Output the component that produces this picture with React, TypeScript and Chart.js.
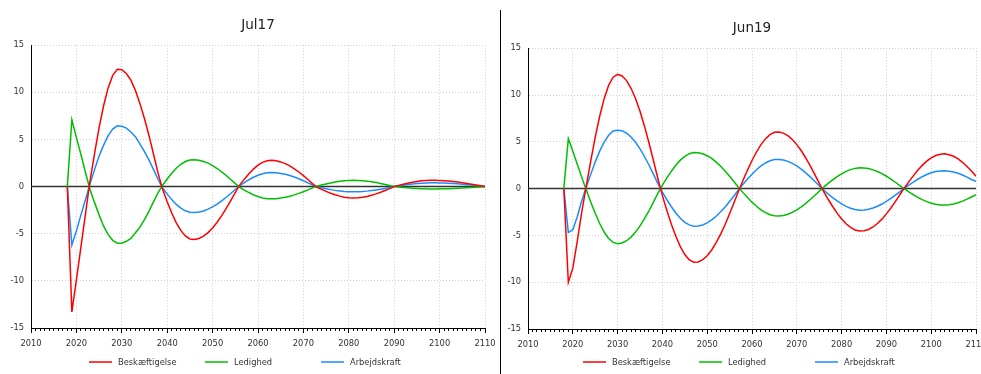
import React, { useEffect, useRef } from "react";
import { Chart, registerables } from "chart.js";

Chart.register(...registerables);

const years = [
  2018, 2019, 2020, 2021, 2022, 2023, 2024, 2025, 2026, 2027, 2028, 2029, 2030, 2031, 2032, 2033, 2034, 2035, 2036, 2037,
  2038, 2039, 2040, 2041, 2042, 2043, 2044, 2045, 2046, 2047, 2048, 2049, 2050, 2051, 2052, 2053, 2054, 2055, 2056, 2057,
  2058, 2059, 2060, 2061, 2062, 2063, 2064, 2065, 2066, 2067, 2068, 2069, 2070, 2071, 2072, 2073, 2074, 2075, 2076, 2077,
  2078, 2079, 2080, 2081, 2082, 2083, 2084, 2085, 2086, 2087, 2088, 2089, 2090, 2091, 2092, 2093, 2094, 2095, 2096, 2097,
  2098, 2099, 2100, 2101, 2102, 2103, 2104, 2105, 2106, 2107, 2108, 2109, 2110,
];

const jul17Beskaeftigelse = [
  0, -13.3, -9.9, -6.4, -2.9, 0.6, 3.5, 6.25, 8.6, 10.5, 11.8, 12.45, 12.4, 12.0, 11.3, 10.2, 8.8, 7.2, 5.4, 3.4,
  1.4, -0.3, -1.6, -2.8, -3.84, -4.65, -5.23, -5.55, -5.61, -5.5, -5.26, -4.88, -4.39, -3.78, -3.08, -2.31, -1.48, -0.62, 0.18, 0.79,
  1.36, 1.86, 2.27, 2.57, 2.75, 2.79, 2.74, 2.62, 2.44, 2.19, 1.89, 1.55, 1.16, 0.75, 0.31, -0.07, -0.29, -0.51, -0.7, -0.87,
  -1.01, -1.12, -1.18, -1.2, -1.18, -1.13, -1.04, -0.92, -0.77, -0.6, -0.41, -0.21, 0, 0.13, 0.25, 0.36, 0.46, 0.54, 0.61, 0.65,
  0.67, 0.67, 0.65, 0.63, 0.59, 0.54, 0.48, 0.42, 0.34, 0.26, 0.18, 0.09, 0,
];
const jul17Ledighed = [
  0, 7.1, 5.2, 3.4, 1.5, -0.3, -1.7, -3.0, -4.2, -5.1, -5.7, -6.0, -6.0, -5.8, -5.5, -4.9, -4.3, -3.5, -2.6, -1.6,
  -0.65, 0.15, 0.8, 1.42, 1.95, 2.37, 2.66, 2.83, 2.86, 2.8, 2.67, 2.49, 2.23, 1.92, 1.57, 1.18, 0.75, 0.31, -0.08, -0.37,
  -0.63, -0.87, -1.06, -1.2, -1.28, -1.3, -1.28, -1.22, -1.14, -1.02, -0.88, -0.72, -0.54, -0.35, -0.14, 0.04, 0.16, 0.28, 0.39, 0.49,
  0.57, 0.62, 0.66, 0.67, 0.66, 0.63, 0.58, 0.51, 0.43, 0.34, 0.23, 0.12, 0, -0.05, -0.09, -0.13, -0.17, -0.2, -0.23, -0.24,
  -0.25, -0.25, -0.24, -0.23, -0.22, -0.2, -0.18, -0.16, -0.13, -0.1, -0.07, -0.03, 0,
];
const jul17Arbejdskraft = [
  0, -6.2, -4.7, -3.0, -1.4, 0.3, 1.8, 3.25, 4.4, 5.4, 6.1, 6.45, 6.4, 6.2, 5.8, 5.3, 4.5, 3.7, 2.8, 1.8,
  0.75, -0.15, -0.8, -1.38, -1.89, -2.28, -2.57, -2.72, -2.75, -2.7, -2.59, -2.39, -2.16, -1.86, -1.51, -1.13, -0.73, -0.31, 0.1, 0.42,
  0.73, 0.99, 1.21, 1.37, 1.47, 1.49, 1.46, 1.4, 1.3, 1.17, 1.01, 0.83, 0.62, 0.4, 0.17, -0.03, -0.13, -0.23, -0.32, -0.4,
  -0.46, -0.51, -0.54, -0.55, -0.54, -0.52, -0.48, -0.42, -0.35, -0.28, -0.19, -0.1, 0, 0.08, 0.15, 0.22, 0.28, 0.32, 0.36, 0.39,
  0.4, 0.4, 0.39, 0.37, 0.35, 0.32, 0.29, 0.25, 0.2, 0.16, 0.11, 0.05, 0,
];

const jun19Beskaeftigelse = [
  0, -10.0, -8.5, -5.6, -2.5, 0.27, 2.94, 5.47, 7.73, 9.61, 11.03, 11.9, 12.2, 12.03, 11.54, 10.72, 9.63, 8.26, 6.67, 4.9,
  3.0, 1.05, -0.75, -2.34, -3.8, -5.1, -6.2, -7.05, -7.61, -7.86, -7.83, -7.6, -7.17, -6.56, -5.78, -4.87, -3.84, -2.69, -1.49, -0.25,
  0.89, 1.98, 3.0, 3.91, 4.7, 5.31, 5.76, 6.01, 6.05, 5.93, 5.66, 5.25, 4.7, 4.04, 3.27, 2.43, 1.52, 0.58, -0.33, -1.14,
  -1.91, -2.62, -3.24, -3.76, -4.15, -4.42, -4.53, -4.51, -4.37, -4.1, -3.73, -3.26, -2.7, -2.07, -1.39, -0.66, 0.07, 0.72, 1.36, 1.95,
  2.48, 2.93, 3.29, 3.54, 3.68, 3.71, 3.62, 3.45, 3.17, 2.81, 2.37, 1.88, 1.33,
];
const jun19Ledighed = [
  0, 5.36, 4.0, 2.6, 1.2, -0.13, -1.42, -2.64, -3.73, -4.64, -5.33, -5.75, -5.89, -5.81, -5.57, -5.18, -4.65, -3.99, -3.22, -2.37,
  -1.44, -0.5, 0.37, 1.15, 1.86, 2.5, 3.04, 3.45, 3.73, 3.85, 3.84, 3.72, 3.51, 3.22, 2.83, 2.39, 1.88, 1.32, 0.73, 0.12,
  -0.43, -0.96, -1.45, -1.89, -2.27, -2.57, -2.79, -2.91, -2.93, -2.87, -2.74, -2.54, -2.27, -1.95, -1.58, -1.17, -0.74, -0.28, 0.16, 0.56,
  0.93, 1.28, 1.58, 1.84, 2.03, 2.16, 2.22, 2.2, 2.14, 2.0, 1.82, 1.6, 1.32, 1.01, 0.68, 0.32, -0.03, -0.34, -0.64, -0.93,
  -1.18, -1.39, -1.56, -1.68, -1.75, -1.76, -1.72, -1.64, -1.51, -1.34, -1.13, -0.9, -0.66,
];
const jun19Arbejdskraft = [
  0, -4.68, -4.4, -3.0, -1.3, 0.14, 1.52, 2.83, 4.0, 4.97, 5.7, 6.15, 6.24, 6.17, 5.93, 5.52, 4.95, 4.25, 3.43, 2.52,
  1.54, 0.54, -0.38, -1.19, -1.94, -2.6, -3.16, -3.6, -3.88, -4.01, -3.99, -3.88, -3.66, -3.34, -2.95, -2.48, -1.96, -1.37, -0.76, -0.13,
  0.46, 1.02, 1.54, 2.02, 2.42, 2.74, 2.97, 3.1, 3.12, 3.05, 2.91, 2.7, 2.42, 2.08, 1.68, 1.25, 0.78, 0.3, -0.17, -0.58,
  -0.97, -1.32, -1.64, -1.9, -2.1, -2.24, -2.3, -2.28, -2.21, -2.08, -1.89, -1.65, -1.37, -1.05, -0.7, -0.34, 0.04, 0.37, 0.7, 1.0,
  1.27, 1.5, 1.69, 1.82, 1.89, 1.9, 1.86, 1.78, 1.64, 1.45, 1.22, 0.97, 0.77,
];

const seriesLabels = ["Beskæftigelse", "Ledighed", "Arbejdskraft"];
const seriesColors = ["#ff0000", "#00bf00", "#1a8cff"];
const xMin = 2010;
const xMax = 2110;
const xMajorStep = 10;
const xMinorStep = 1;
const yMin = -15;
const yMax = 15;
const yStep = 5;

const FONT = '"DejaVu Sans", Verdana, sans-serif';
const GRID = "#cfcfcf";

const fixedLegend = {
  id: "fixedLegend",
  afterDraw(chart: any, _args: any, opts: any) {
    const { ctx, chartArea } = chart;
    const cx = (chartArea.left + chartArea.right) / 2;
    const start = cx - opts.offset;
    const y = opts.y;
    ctx.save();
    ctx.font = `8.3px ${FONT}`;
    ctx.textBaseline = "middle";
    ctx.textAlign = "left";
    const items = chart.data.datasets.filter((d: any) => d.label);
    items.forEach((ds: any, i: number) => {
      const x = start + i * opts.colWidth;
      ctx.strokeStyle = ds.borderColor;
      ctx.lineWidth = 1.5;
      ctx.beginPath();
      ctx.moveTo(x, y);
      ctx.lineTo(x + 23, y);
      ctx.stroke();
      ctx.fillStyle = "#333";
      ctx.fillText(ds.label, x + 29, y + 0.5);
    });
    ctx.restore();
  },
};

type PanelProps = {
  title: string;
  series: number[][];
  left: number;
  width: number;
  yWidth: number;
  titleTop: number;
  xHeight: number;
};

function Panel({ title, series, left, width, yWidth, titleTop, xHeight }: PanelProps) {
  const ref = useRef<HTMLCanvasElement>(null);
  useEffect(() => {
    const toPts = (vals: number[]) => years.map((x, i) => ({ x, y: vals[i] }));
    const datasets: any[] = series.map((vals, i) => ({
      label: seriesLabels[i],
      data: toPts(vals),
      borderColor: seriesColors[i],
      backgroundColor: seriesColors[i],
      borderWidth: 1.5,
      pointRadius: 0,
      tension: 0,
      fill: false,
      order: 1,
    }));
    datasets.push({
      label: "",
      data: [
        { x: xMin, y: 0 },
        { x: xMax, y: 0 },
      ],
      borderColor: "#333",
      borderWidth: 1.5,
      pointRadius: 0,
      fill: false,
      order: 10,
    });
    const chart = new Chart(ref.current as HTMLCanvasElement, {
      type: "line",
      data: { datasets },
      plugins: [fixedLegend as any],
      options: {
        responsive: false,
        animation: false,
        devicePixelRatio: 1,
        layout: { padding: 0 },
        plugins: {
          legend: { display: false },
          tooltip: { enabled: false },
          title: {
            display: true,
            text: title,
            color: "#222",
            font: { family: FONT, size: 13.5, weight: "normal" as any },
            padding: { top: titleTop, bottom: 12 },
          },
          fixedLegend: { y: 362, offset: 169, colWidth: 116 },
        } as any,
        scales: {
          x: {
            type: "linear",
            position: "bottom",
            min: xMin,
            max: xMax,
            ticks: {
              stepSize: xMajorStep,
              autoSkip: false,
              maxRotation: 0,
              padding: 6,
              color: "#333",
              font: { family: FONT, size: 8.3 },
              callback: (v: any) => String(v),
            },
            grid: {
              color: (c: any) => (c.tick && c.tick.value === xMin ? "rgba(0,0,0,0)" : GRID),
              tickColor: "#000",
              tickLength: 5,
              lineWidth: 1,
            },
            border: { display: true, color: "#000", width: 1, dash: [1, 2] },
            afterFit: (s: any) => {
              s.height = xHeight;
            },
          },
          xMinor: {
            type: "linear",
            axis: "x",
            position: { y: yMin } as any,
            min: xMin,
            max: xMax,
            ticks: { stepSize: xMinorStep, display: false, autoSkip: false },
            grid: { drawOnChartArea: false, drawTicks: true, tickLength: 3, tickColor: "#000", tickWidth: 1 },
            border: { display: false },
          } as any,
          y: {
            type: "linear",
            position: "left",
            min: yMin,
            max: yMax,
            ticks: {
              stepSize: yStep,
              padding: 7,
              color: "#333",
              font: { family: FONT, size: 8.3 },
              callback: (v: any) => String(v),
            },
            grid: {
              drawTicks: false,
              color: (c: any) => (c.tick && (c.tick.value === 0 || c.tick.value === yMin) ? "rgba(0,0,0,0)" : GRID),
              lineWidth: 1,
            },
            border: { display: true, color: "#000", width: 1, dash: [1, 2] },
            afterFit: (s: any) => {
              s.width = yWidth;
            },
          },
          yRight: {
            type: "linear",
            axis: "y",
            position: "right",
            display: true,
            ticks: { display: false },
            grid: { display: false, drawTicks: false },
            border: { display: false },
            afterFit: (s: any) => {
              s.width = yWidth;
            },
          } as any,
        },
      },
    });
    return () => chart.destroy();
  }, []);
  return (
    <canvas
      ref={ref}
      width={width}
      height={374}
      style={{ position: "absolute", left, top: 0, width, height: 374 }}
    />
  );
}

export default function App() {
  return (
    <div
      style={{
        position: "fixed",
        left: 0,
        top: 0,
        width: 981,
        height: 374,
        overflow: "hidden",
        background: "#fff",
      }}
    >
      <Panel
        title="Jul17"
        series={[jul17Beskaeftigelse, jul17Ledighed, jul17Arbejdskraft]}
        left={0}
        width={516}
        yWidth={31}
        titleTop={17}
        xHeight={46}
      />
      <Panel
        title="Jun19"
        series={[jun19Beskaeftigelse, jun19Ledighed, jun19Arbejdskraft]}
        left={501}
        width={502}
        yWidth={27}
        titleTop={20}
        xHeight={45}
      />
      <div style={{ position: "absolute", left: 500, top: 10, width: 1, height: 364, background: "#000" }} />
    </div>
  );
}
